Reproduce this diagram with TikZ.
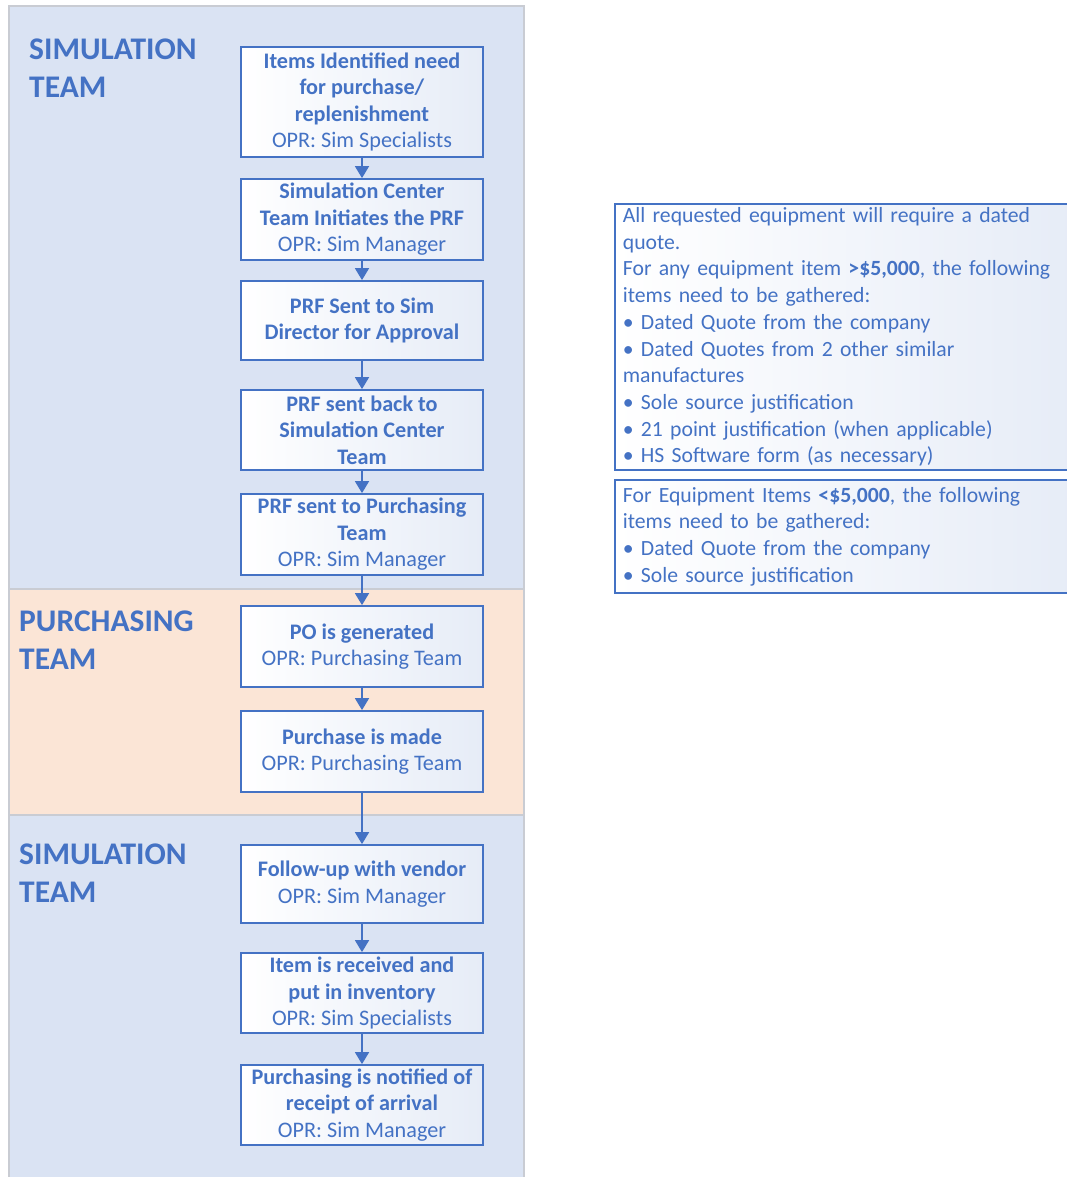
\documentclass[tikz,border=0pt]{standalone}
\usepackage{fontspec}
\setmainfont{Carlito}
\usetikzlibrary{arrows.meta}
\definecolor{ink}{HTML}{4472C4}
\definecolor{lanesim}{HTML}{DAE3F3}
\definecolor{lanebuy}{HTML}{FBE5D6}
\definecolor{laneedge}{HTML}{C9CCD3}
\definecolor{boxtint}{HTML}{E6ECF7}
\tikzset{
  stepbox/.style={draw=ink, line width=1.8pt, left color=white, right color=boxtint,
    minimum width=242pt, inner sep=1pt, align=center, text=ink,
    font=\fontsize{22.2}{26.5}\selectfont},
  flow/.style={draw=ink, line width=1.8pt, -{Triangle[width=14pt,length=12pt]}},
  lanelabel/.style={anchor=north west, text=ink, align=left, inner sep=0pt,
    font=\bfseries\fontsize{31.5}{38}\selectfont},
  notebox/.style={draw=ink, line width=1.8pt, anchor=north west, left color=white,
    right color=boxtint, align=left, text=ink, font=\fontsize{21.7}{26.7}\selectfont,
    text width=446pt, inner xsep=8pt, inner ysep=0pt}
}
\begin{document}
\begin{tikzpicture}[x=1pt, y=-1pt]
\useasboundingbox (0,0) rectangle (1066,1177);
\fill[white] (0,0) rectangle (1066,1177);

% swim lanes
\fill[lanesim] (9,6) rectangle (524,589);
\fill[lanebuy] (9,589) rectangle (524,815);
\fill[lanesim] (9,815) rectangle (524,1182);
\draw[laneedge, line width=1.5pt] (9,6) rectangle (524,589);
\draw[laneedge, line width=1.5pt] (9,589) rectangle (524,815);
\draw[laneedge, line width=1.5pt] (9,815) rectangle (524,1182);

\node[lanelabel] (lane1) at (29,39) {SIMULATION\\TEAM};
\node[lanelabel] (lane2) at (19,611) {PURCHASING\\TEAM};
\node[lanelabel] (lane3) at (19,844) {SIMULATION\\TEAM};

% process steps
\node[stepbox, minimum height=110pt] (b1) at (362,102)
  {\textbf{Items Identified need}\\\textbf{for purchase/}\\\textbf{replenishment}\\OPR: Sim Specialists};
\node[stepbox, minimum height=81pt] (b2) at (362,219.5)
  {\textbf{Simulation Center}\\\textbf{Team Initiates the PRF}\\OPR: Sim Manager};
\node[stepbox, minimum height=79pt] (b3) at (362,320.5)
  {\textbf{PRF Sent to Sim}\\\textbf{Director for Approval}};
\node[stepbox, minimum height=80pt] (b4) at (362,430)
  {\textbf{PRF sent back to}\\\textbf{Simulation Center}\\\textbf{Team}};
\node[stepbox, minimum height=81pt] (b5) at (362,534.5)
  {\textbf{PRF sent to Purchasing}\\\textbf{Team}\\OPR: Sim Manager};
\node[stepbox, minimum height=81pt] (b6) at (362,646.5)
  {\textbf{PO is generated}\\OPR: Purchasing Team};
\node[stepbox, minimum height=81pt] (b7) at (362,751.5)
  {\textbf{Purchase is made}\\OPR: Purchasing Team};
\node[stepbox, minimum height=78pt] (b8) at (362,884)
  {\textbf{Follow-up with vendor}\\OPR: Sim Manager};
\node[stepbox, minimum height=80pt] (b9) at (362,993)
  {\textbf{Item is received and}\\\textbf{put in inventory}\\OPR: Sim Specialists};
\node[stepbox, minimum height=80pt] (b10) at (362,1105)
  {\textbf{Purchasing is notified of}\\\textbf{receipt of arrival}\\OPR: Sim Manager};

\foreach \a/\b in {b1/b2, b2/b3, b3/b4, b4/b5, b5/b6, b6/b7, b7/b8, b8/b9, b9/b10}
  \draw[flow] (\a) -- (\b);

% requirement notes
\node[notebox, minimum height=266pt] (n1) at (614,203)
  {All requested equipment will require a dated\\
   quote.\\
   For any equipment item \textbf{>\$5,000}, the following\\
   items need to be gathered:\\
   • Dated Quote from the company\\
   • Dated Quotes from 2 other similar\\
   manufactures\\
   • Sole source justification\\
   • 21 point justification (when applicable)\\
   • HS Software form (as necessary)};
\node[notebox, minimum height=113pt] (n2) at (614,479)
  {For Equipment Items \textbf{<\$5,000}, the following\\
   items need to be gathered:\\
   • Dated Quote from the company\\
   • Sole source justification};
\end{tikzpicture}
\end{document}
